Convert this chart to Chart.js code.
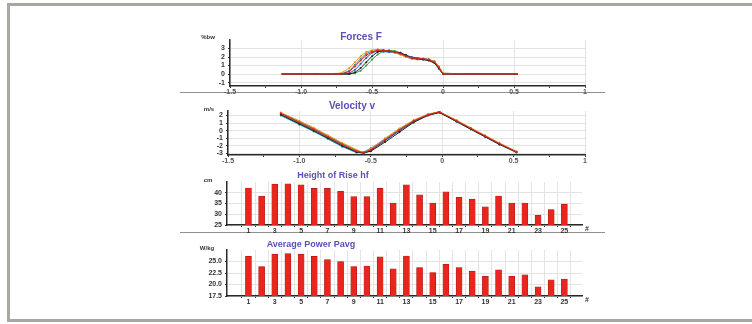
<!DOCTYPE html>
<html lang="en">
<head>
<meta charset="UTF-8">
<title>Forces, velocity, height of rise and power</title>
<script src="https://cdn.jsdelivr.net/npm/chart.js"></script>
<style>
  html, body { margin: 0; padding: 0; background: #fff; }
  #page { position: relative; width: 752px; height: 324px; overflow: hidden; }
  #frame { position: absolute; left: 7px; top: 3px; width: 800px; height: 319px; box-sizing: border-box; border: 3px solid #aca6a3; }
  .sep { position: absolute; height: 1px; background: #909090; left: 180px; width: 425px; }
  canvas { position: absolute; }
</style>
</head>
<body>
<div id="page">
  <div id="frame"></div>
  <div class="sep" style="top:92px"></div>
  <div class="sep" style="top:232px"></div>
  <canvas id="forceChart"></canvas>
  <canvas id="velocityChart"></canvas>
  <canvas id="heightChart"></canvas>
  <canvas id="powerChart"></canvas>
</div>
<script>
// time in s, forces in %bw, velocity in m/s
const forceTime = [-1.13, -0.9, -0.72, -0.66, -0.62, -0.58, -0.54, -0.5, -0.46, -0.42, -0.38, -0.34, -0.3, -0.26, -0.22, -0.18, -0.14, -0.1, -0.06, -0.03, 0, 0.2, 0.52];
const forceTrials = [
    [0, 0, 0, 0.3, 0.9, 1.6, 2.2, 2.6, 2.8, 2.8, 2.7, 2.6, 2.4, 2.1, 1.9, 1.8, 1.8, 1.7, 1.4, 0.8, 0, 0, 0],
    [0, 0, 0, 0, 0.2, 0.7, 1.4, 2.1, 2.6, 2.8, 2.7, 2.6, 2.5, 2.2, 1.9, 1.8, 1.7, 1.6, 1.3, 0.7, 0, 0, 0],
    [0, 0, 0.1, 0.7, 1.4, 2.1, 2.6, 2.8, 2.9, 2.8, 2.7, 2.5, 2.3, 2.0, 1.8, 1.8, 1.7, 1.7, 1.5, 0.9, 0.1, 0, 0],
    [0, 0, 0, 0.1, 0.5, 1.2, 1.9, 2.5, 2.7, 2.7, 2.6, 2.6, 2.4, 2.2, 2.0, 1.9, 1.8, 1.7, 1.4, 0.8, 0, 0, 0],
    [0, 0, 0, 0.4, 1.1, 1.8, 2.4, 2.7, 2.7, 2.6, 2.6, 2.5, 2.3, 2.0, 1.8, 1.7, 1.7, 1.6, 1.3, 0.6, 0, 0, 0],
    [0, 0, 0, 0, 0.1, 0.4, 1.0, 1.7, 2.3, 2.7, 2.8, 2.7, 2.5, 2.2, 1.9, 1.8, 1.8, 1.7, 1.5, 0.9, 0.1, 0, 0]
];
const velocityTime = [-1.13, -1.0, -0.9, -0.8, -0.7, -0.6, -0.55, -0.5, -0.4, -0.3, -0.2, -0.1, -0.02, 0.1, 0.2, 0.3, 0.4, 0.52];
const velocityTrials = [
    [2.3, 1.1, 0.2, -0.8, -1.8, -2.7, -2.9, -2.5, -1.2, 0.1, 1.3, 2.1, 2.5, 1.3, 0.3, -0.7, -1.7, -2.8],
    [2.1, 0.9, 0.0, -1.0, -2.0, -2.8, -2.9, -2.7, -1.5, -0.2, 1.1, 2.0, 2.4, 1.2, 0.2, -0.8, -1.8, -2.8],
    [2.4, 1.3, 0.4, -0.6, -1.6, -2.5, -2.9, -2.4, -1.0, 0.3, 1.4, 2.2, 2.5, 1.4, 0.4, -0.6, -1.6, -2.7],
    [2.2, 1.0, 0.1, -0.9, -1.9, -2.8, -3.0, -2.6, -1.3, 0.0, 1.2, 2.1, 2.4, 1.3, 0.3, -0.7, -1.7, -2.8],
    [2.0, 0.8, -0.1, -1.1, -2.1, -2.9, -2.8, -2.3, -1.1, 0.2, 1.3, 2.1, 2.5, 1.2, 0.2, -0.8, -1.8, -2.9],
    [2.3, 1.2, 0.3, -0.7, -1.7, -2.6, -2.9, -2.6, -1.3, 0.0, 1.2, 2.1, 2.5, 1.3, 0.3, -0.7, -1.7, -2.8]
];
const trialNumbers = [1, 2, 3, 4, 5, 6, 7, 8, 9, 10, 11, 12, 13, 14, 15, 16, 17, 18, 19, 20, 21, 22, 23, 24, 25];
const riseHeight = [42.2, 38.5, 44.0, 44.2, 43.7, 42.0, 42.0, 40.7, 38.2, 38.2, 42.0, 35.2, 43.7, 39.0, 35.2, 40.4, 37.9, 37.0, 33.4, 38.5, 35.2, 35.2, 29.5, 32.2, 34.7];
const avgPower = [26.1, 23.9, 26.6, 26.7, 26.6, 26.1, 25.4, 25.0, 23.9, 24.0, 26.0, 23.4, 26.2, 23.7, 22.6, 24.4, 23.7, 22.9, 21.8, 23.2, 21.8, 22.1, 19.5, 21.0, 21.2];

// y tick labels of each panel
const forceTicks = [-1, 0, 1, 2, 3];
const velocityTicks = [-3, -2, -1, 0, 1, 2];
const heightTicks = [25, 30, 35, 40];
const powerTicks = [17.5, 20, 22.5, 25];

const trialColors = ['#d9261c', '#222222', '#f0901e', '#2d4fc8', '#18a3a0', '#2f9a3c'];
const titleColor = '#5a4fb5';

Chart.defaults.font.family = 'Liberation Sans, Arial, sans-serif';
Chart.defaults.font.size = 7;
Chart.defaults.font.weight = 'bold';
Chart.defaults.color = '#333';

// titles, units and the "#" marks, drawn in page coordinates
const panelText = {
    id: 'panelText',
    afterDraw(chart, args, opts) {
        const ctx = chart.ctx;
        ctx.save();
        ctx.textBaseline = 'middle';
        opts.items.forEach(it => {
            ctx.font = it.font;
            ctx.fillStyle = it.color || '#333';
            ctx.textAlign = it.align || 'center';
            ctx.fillText(it.text, it.x - opts.dx, it.y - opts.dy);
        });
        ctx.restore();
    }
};

const gridStyle = { color: '#e3e3e3', tickColor: '#333', tickLength: 2 };
const axisBorder = { color: '#2a2a2a', width: 1.5 };

function makeChart(id, box, area, items, config) {
    const cv = document.getElementById(id);
    cv.width = box.w;
    cv.height = box.h;
    cv.style.left = box.x + 'px';
    cv.style.top = box.y + 'px';
    const opt = config.options;
    opt.responsive = false;
    opt.animation = false;
    opt.layout = { padding: { left: 0, top: area.t - box.y, right: box.x + box.w - area.r, bottom: 0 } };
    opt.scales.x.afterFit = s => { s.height = box.y + box.h - area.b; s.paddingLeft = 0; s.paddingRight = 0; };
    opt.scales.y.afterFit = s => { s.width = area.l - box.x; s.paddingTop = 0; s.paddingBottom = 0; };
    opt.plugins = { legend: { display: false }, tooltip: { enabled: false }, panelText: { dx: box.x, dy: box.y, items } };
    config.plugins = [panelText];
    return new Chart(cv, config);
}

function isHalf(v) { return Math.abs(v * 2 - Math.round(v * 2)) < 1e-6; }
function timeLabel(v) {
    if (!isHalf(v)) return '';
    if (v === 0) return '0';
    if (v === 1) return '1';
    return v.toFixed(1);
}
function timeAxis() {
    return {
        type: 'linear', min: -1.5, max: 1,
        ticks: { stepSize: 0.25, padding: 0, autoSkip: false, maxRotation: 0, color: '#555', callback: timeLabel },
        grid: { color: c => (c.tick && isHalf(c.tick.value)) ? '#e3e3e3' : 'rgba(0,0,0,0)', tickColor: '#333', tickLength: 2 },
        border: axisBorder
    };
}
function valueAxis(min, max, tickValues, label) {
    return {
        min: min, max: max,
        afterBuildTicks: s => { s.ticks = tickValues.map(v => ({ value: v })); },
        ticks: { padding: 3, autoSkip: false, callback: label },
        grid: gridStyle, border: axisBorder
    };
}
function lineSets(time, trials) {
    return trials.map((vals, i) => ({
        data: vals.map((v, k) => ({ x: time[k], y: v })),
        borderColor: trialColors[i],
        backgroundColor: trialColors[i],
        borderWidth: 1,
        pointRadius: 1,
        pointBorderWidth: 0,
        tension: 0
    }));
}
function trialAxis() {
    return {
        type: 'linear', min: -0.09, max: 25.8,
        afterBuildTicks: s => { s.ticks = trialNumbers.map(v => ({ value: v })); },
        ticks: { padding: 0, autoSkip: false, maxRotation: 0, callback: v => (v % 2 === 1 ? String(v) : '') },
        grid: gridStyle,
        border: axisBorder
    };
}
function barSet(vals) {
    return [{
        data: vals.map((v, k) => ({ x: trialNumbers[k], y: v })),
        backgroundColor: '#e8261e',
        borderColor: '#a81a14',
        borderWidth: 0.6,
        barThickness: 6
    }];
}

makeChart('forceChart', { x: 170, y: 26, w: 440, h: 72 }, { l: 230, r: 585, t: 40, b: 86 }, [
    { text: 'Forces F', x: 361, y: 37, font: 'bold 10px Liberation Sans, Arial', color: titleColor },
    { text: '%bw', x: 208, y: 37, font: 'bold 6px Liberation Sans, Arial' }
], {
    type: 'line',
    data: { datasets: lineSets(forceTime, forceTrials) },
    options: {
        scales: {
            x: timeAxis(),
            y: valueAxis(-1.4, 4, forceTicks, v => String(v))
        }
    }
});

makeChart('velocityChart', { x: 170, y: 98, w: 440, h: 68 }, { l: 228, r: 585, t: 111, b: 155 }, [
    { text: 'Velocity v', x: 352, y: 106, font: 'bold 10px Liberation Sans, Arial', color: titleColor },
    { text: 'm/s', x: 209, y: 109, font: 'bold 6px Liberation Sans, Arial' }
], {
    type: 'line',
    data: { datasets: lineSets(velocityTime, velocityTrials) },
    options: {
        scales: {
            x: timeAxis(),
            y: valueAxis(-3.2, 2.6, velocityTicks, v => String(v))
        }
    }
});

makeChart('heightChart', { x: 170, y: 166, w: 440, h: 70 }, { l: 227, r: 582, t: 182, b: 225 }, [
    { text: 'Height of Rise hf', x: 333, y: 176, font: 'bold 9px Liberation Sans, Arial', color: titleColor },
    { text: 'cm', x: 208, y: 180, font: 'bold 6px Liberation Sans, Arial' },
    { text: '#', x: 587, y: 229, font: 'bold 7px Liberation Sans, Arial' }
], {
    type: 'bar',
    data: { datasets: barSet(riseHeight) },
    options: {
        scales: {
            x: trialAxis(),
            y: valueAxis(25, 45, heightTicks, v => String(v))
        }
    }
});

makeChart('powerChart', { x: 170, y: 238, w: 440, h: 74 }, { l: 227, r: 582, t: 250, b: 296 }, [
    { text: 'Average Power Pavg', x: 311, y: 245, font: 'bold 9px Liberation Sans, Arial', color: titleColor },
    { text: 'W/kg', x: 207, y: 248, font: 'bold 6px Liberation Sans, Arial' },
    { text: '#', x: 587, y: 300, font: 'bold 7px Liberation Sans, Arial' }
], {
    type: 'bar',
    data: { datasets: barSet(avgPower) },
    options: {
        scales: {
            x: trialAxis(),
            y: valueAxis(17.5, 27.5, powerTicks, v => v.toFixed(1))
        }
    }
});
</script>
</body>
</html>
